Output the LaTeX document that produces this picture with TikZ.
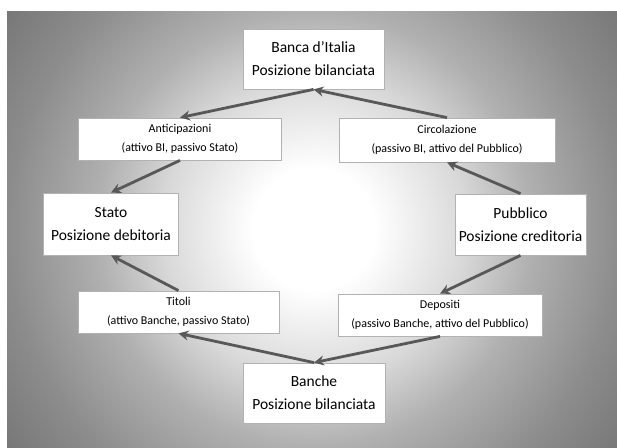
\documentclass[tikz,border=0pt]{standalone}
\usepackage{fontspec}
\setmainfont{Carlito}
\usepackage{tikz}
\usetikzlibrary{arrows.meta, positioning}
\tikzset{>=Stealth}
\definecolor{freccia}{HTML}{585858}
\pgfdeclareradialshading{sfondo}{\pgfpoint{0bp}{0bp}}{color(0bp)=(white); color(4bp)=(white); color(9.9bp)=(black!15); color(14.3bp)=(black!31); color(20.1bp)=(black!45); color(24.7bp)=(black!53); color(50bp)=(black!53)}

\begin{document}
\begin{tikzpicture}[x=1pt, y=-1pt,
		grande/.style={draw=black!30, fill=white, line width=0.8pt, align=center, inner sep=0pt, font=\fontsize{15.5}{23}\selectfont},
		piccolo/.style={draw=black!30, fill=white, line width=0.8pt, align=center, inner sep=0pt, font=\fontsize{12}{19}\selectfont},
		flusso/.style={-{Stealth[length=10pt, width=10pt]}, line width=2.8pt, freccia}]
			\useasboundingbox (0,0) rectangle (617,447);
			\begin{scope}
				\clip (7,11) rectangle (617,447);
				\shade[shading=sfondo] (314,229) circle (380);
			\end{scope}
			\node[grande, minimum width=141, minimum height=60] (banca) at (313.5,59) {Banca d’Italia\\Posizione bilanciata};
			\node[piccolo, minimum width=203, minimum height=42] (antic) at (180,139) {Anticipazioni\\(attivo BI, passivo Stato)};
			\node[piccolo, minimum width=216, minimum height=44] (circ) at (447,140) {Circolazione\\(passivo BI, attivo del Pubblico)};
			\node[grande, minimum width=135, minimum height=62] (stato) at (111,224) {Stato\\Posizione debitoria};
			\node[grande, minimum width=131, minimum height=61] (pubbl) at (520.5,224.5) {Pubblico\\Posizione creditoria};
			\node[piccolo, minimum width=201, minimum height=42] (titoli) at (178.5,312) {Titoli\\(attivo Banche, passivo Stato)};
			\node[piccolo, minimum width=204, minimum height=42] (depos) at (440,315) {Depositi\\(passivo Banche, attivo del Pubblico)};
			\node[grande, minimum width=142, minimum height=60] (banche) at (314,393) {Banche\\Posizione bilanciata};
			\draw[flusso] (banca.south) -- (antic.north);
			\draw[flusso] (antic.south) -- (stato.north);
			\draw[flusso] (pubbl.north) -- (circ.south);
			\draw[flusso] (circ.north) -- (banca.south);
			\draw[flusso] (pubbl.south) -- (depos.north);
			\draw[flusso] (depos.south) -- (banche.north);
			\draw[flusso] (banche.north) -- (titoli.south);
			\draw[flusso] (titoli.north) -- (stato.south);
		\end{tikzpicture}
\end{document}
